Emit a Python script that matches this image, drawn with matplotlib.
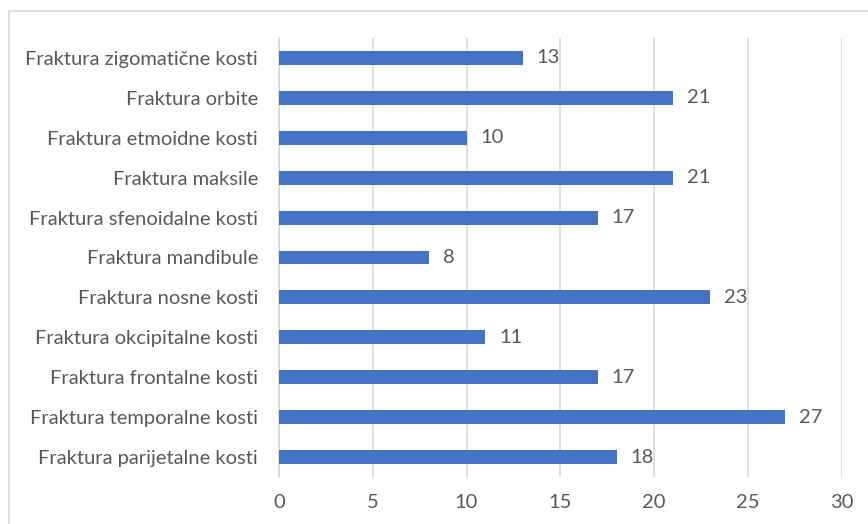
import matplotlib.pyplot as plt
from matplotlib.patches import Rectangle

# data (top to bottom as in the chart)
categories = ["Fraktura zigomatične kosti", "Fraktura orbite", "Fraktura etmoidne kosti",
              "Fraktura maksile", "Fraktura sfenoidalne kosti", "Fraktura mandibule",
              "Fraktura nosne kosti", "Fraktura okcipitalne kosti", "Fraktura frontalne kosti",
              "Fraktura temporalne kosti", "Fraktura parijetalne kosti"]
values = [13, 21, 10, 21, 17, 8, 23, 11, 17, 27, 18]
xticks = [0, 5, 10, 15, 20, 25, 30]

plt.rcParams['font.family'] = ['Lato', 'DejaVu Sans']
text_col = '#595959'
fs = 14.5

fig = plt.figure(figsize=(8.68, 5.24), dpi=100)
ax = fig.add_axes([279 / 868, 1 - 477 / 524, (841.5 - 279) / 868, (477 - 38) / 524])

# chart border
fig.patches.append(Rectangle((9 / 868, -0.1), 1.2, 1 - 11 / 524 + 0.1, transform=fig.transFigure,
                             fill=False, edgecolor='#D9D9D9', linewidth=1.2))

ypos = list(range(len(categories)))[::-1]
ax.barh(ypos, values, height=0.35, color='#4472C4', zorder=3)

for y, v in zip(ypos, values):
    ax.annotate(str(v), (v, y), xytext=(10, 0), textcoords='offset points',
                va='center', ha='left', fontsize=fs, color=text_col)

ax.set_xlim(0, 30)
ax.set_ylim(-0.5, len(categories) - 0.5)
ax.set_xticks(xticks)
ax.set_yticks(ypos)
ax.set_yticklabels(categories)
ax.tick_params(axis='both', length=0, labelsize=fs, colors=text_col)
ax.tick_params(axis='x', pad=12)
ax.tick_params(axis='y', pad=15)
ax.grid(axis='x', color='#D9D9D9', linewidth=1.2, zorder=0)
for s in ['top', 'right', 'bottom']:
    ax.spines[s].set_visible(False)
ax.spines['left'].set_color('#D9D9D9')
ax.spines['left'].set_linewidth(1.2)

fig.savefig('out.png', dpi=100)
